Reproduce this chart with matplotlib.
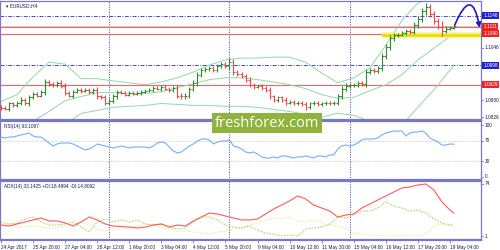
import matplotlib
matplotlib.use("Agg")
import matplotlib.pyplot as plt
import numpy as np
from matplotlib.patches import Rectangle

# H4 bars, 24 Apr 2017 .. 19 May 2017
closes = [
    1.0856, 1.0853, 1.0870, 1.0864, 1.0873, 1.0882, 1.0870, 1.0889, 1.0901, 1.0895,
    1.0907, 1.0938, 1.0932, 1.0929, 1.0935, 1.0926, 1.0904, 1.0895, 1.0907, 1.0913,
    1.0910, 1.0913, 1.0907, 1.0913, 1.0892, 1.0889, 1.0873, 1.0879, 1.0892, 1.0907,
    1.0904, 1.0898, 1.0904, 1.0901, 1.0904, 1.0907, 1.0910, 1.0913, 1.0919, 1.0916,
    1.0922, 1.0916, 1.0913, 1.0919, 1.0895, 1.0892, 1.0895, 1.0916, 1.0935, 1.0960,
    1.0975, 1.0978, 1.0981, 1.0975, 1.0988, 1.0994, 1.0988, 1.1000, 1.0969, 1.0963,
    1.0957, 1.0944, 1.0929, 1.0923, 1.0926, 1.0919, 1.0913, 1.0892, 1.0882, 1.0889,
    1.0882, 1.0873, 1.0876, 1.0870, 1.0873, 1.0867, 1.0858, 1.0870, 1.0873, 1.0867,
    1.0870, 1.0873, 1.0870, 1.0873, 1.0892, 1.0916, 1.0926, 1.0929, 1.0929, 1.0935,
    1.0932, 1.0969, 1.0975, 1.0972, 1.0981, 1.1019, 1.1047, 1.1075, 1.1084, 1.1087,
    1.1093, 1.1099, 1.1096, 1.1118, 1.1137, 1.1162, 1.1174, 1.1152, 1.1130, 1.1112,
    1.1099, 1.1106, 1.1109, 1.1115,
]
first_open = 1.0860
wick_pips = [
    6, 5, 6, 5, 6, 7, 5, 8, 6, 5,
    6, 10, 7, 6, 6, 8, 8, 6, 7, 5,
    6, 5, 6, 6, 9, 6, 8, 7, 8, 7,
    5, 6, 5, 5, 5, 6, 5, 5, 6, 5,
    6, 5, 6, 6, 9, 7, 8, 7, 8, 9,
    7, 6, 6, 6, 7, 6, 6, 12, 9, 6,
    6, 7, 8, 6, 5, 6, 7, 9, 6, 6,
    6, 7, 5, 6, 5, 6, 8, 6, 5, 6,
    5, 5, 5, 6, 8, 9, 7, 6, 6, 7,
    6, 10, 7, 6, 7, 10, 9, 10, 8, 6,
    6, 7, 6, 8, 9, 10, 12, 10, 9, 8,
    18, 7, 6, 5,
]

# Bollinger bands, sampled every 4 bars
bb_k = [0, 4, 8, 12, 16, 20, 24, 28, 32, 36, 40, 44, 48, 52, 56,
        60, 64, 68, 72, 76, 80, 84, 88, 92, 96, 100, 104, 108, 112, 113]
bb_upper = [1.0876, 1.0898, 1.0954, 1.1000, 1.0994, 1.0948, 1.0948, 1.0941, 1.0935, 1.0929,
            1.0938, 1.0951, 1.0969, 1.0991, 1.1007, 1.1013, 1.1013, 1.1016, 1.1016, 1.1000,
            1.0966, 1.0935, 1.0951, 1.0982, 1.1053, 1.1131, 1.1186, 1.1208, 1.1202, 1.1196]
bb_mid = [1.0790, 1.0796, 1.0814, 1.0845, 1.0879, 1.0892, 1.0904, 1.0904, 1.0901, 1.0901,
          1.0907, 1.0920, 1.0932, 1.0945, 1.0951, 1.0951, 1.0945, 1.0938, 1.0929, 1.0917,
          1.0898, 1.0886, 1.0889, 1.0910, 1.0929, 1.0960, 1.1007, 1.1044, 1.1081, 1.1090]
bb_lower = [1.0728, 1.0728, 1.0743, 1.0765, 1.0805, 1.0839, 1.0848, 1.0858, 1.0861, 1.0864,
            1.0870, 1.0867, 1.0864, 1.0864, 1.0861, 1.0861, 1.0858, 1.0851, 1.0845, 1.0836,
            1.0827, 1.0839, 1.0833, 1.0814, 1.0790, 1.0802, 1.0858, 1.0913, 1.0975, 1.0991]

# RSI(14), one value per bar
rsi = [
    76.9, 75.0, 76.9, 76.9, 78.8, 80.8, 82.7, 84.6, 78.8, 76.9,
    76.9, 71.2, 65.4, 59.6, 63.5, 65.4, 65.4, 65.4, 63.5, 59.6,
    55.8, 51.9, 53.8, 57.7, 63.5, 61.5, 59.6, 57.7, 55.8, 57.7,
    59.6, 57.7, 55.8, 57.7, 57.7, 57.7, 57.7, 55.8, 59.6, 65.4,
    67.3, 65.4, 57.7, 50.0, 46.2, 48.1, 53.8, 59.6, 63.5, 69.2,
    73.1, 73.1, 71.2, 63.5, 67.3, 69.2, 69.2, 71.2, 59.6, 57.7,
    53.8, 48.1, 46.2, 48.1, 44.2, 38.5, 36.5, 36.5, 38.5, 36.5,
    40.4, 40.4, 38.5, 36.5, 38.5, 38.5, 40.4, 38.5, 36.5, 40.4,
    40.4, 38.5, 42.3, 42.3, 53.8, 59.6, 61.5, 59.6, 61.5, 65.4,
    71.2, 73.1, 73.1, 73.1, 75.0, 80.8, 84.6, 86.5, 88.5, 88.5,
    88.5, 78.8, 84.6, 86.5, 86.5, 88.5, 84.6, 75.0, 71.2, 67.3,
    61.5, 61.5, 63.5, 63.1,
]

# ADX(14), sampled every 2 bars
adx_k = list(range(0, 113, 2)) + [113]
adx = [16.4, 15.0, 17.9, 20.7, 23.5, 26.3, 22.1, 22.1, 19.3, 15.0,
       20.7, 27.7, 23.5, 17.9, 15.0, 14.3, 13.6, 12.2, 13.6, 16.4,
       17.9, 13.6, 16.4, 15.0, 22.1, 27.7, 33.3, 31.9, 29.1, 26.3,
       23.5, 23.5, 24.9, 31.9, 38.9, 44.5, 50.2, 57.2, 53.0, 44.5,
       40.3, 36.1, 27.7, 30.5, 31.9, 40.3, 45.9, 51.6, 57.2, 62.8,
       68.4, 69.8, 72.6, 74.0, 65.6, 48.8, 37.5, 33.1]
plus_di = [20.7, 17.9, 19.3, 24.9, 27.7, 20.7, 16.4, 16.4, 17.9, 20.7,
           13.6, 6.6, 20.7, 24.9, 20.7, 23.5, 20.7, 23.5, 17.9, 16.4,
           17.9, 13.6, 10.8, 12.2, 20.7, 27.7, 27.7, 23.5, 16.4, 13.6,
           12.2, 15.0, 9.4, 5.2, 3.8, 1.0, 2.4, 1.2, 10.8, 12.2,
           13.6, 17.9, 27.7, 26.3, 30.5, 36.1, 36.1, 40.3, 48.8, 43.1,
           40.3, 36.1, 37.5, 33.3, 24.9, 19.3, 16.4, 18.5]
minus_di = [17.9, 16.4, 13.6, 13.6, 15.7, 13.6, 12.2, 12.2, 15.0, 17.9,
            20.7, 16.4, 10.8, 8.0, 9.4, 10.8, 12.2, 15.0, 17.9, 16.4,
            13.6, 10.8, 8.0, 8.0, 6.6, 5.2, 3.8, 6.6, 8.0, 10.8,
            12.2, 16.4, 19.3, 23.5, 26.3, 24.9, 27.7, 22.1, 20.7, 23.5,
            19.3, 16.4, 15.0, 12.2, 5.2, 3.8, 2.4, 1.7, 1.0, 1.0,
            1.7, 2.4, 1.0, 3.8, 15.0, 17.9, 15.0, 14.8]

x_labels = ["24 Apr 2017", "25 Apr 20:00", "27 Apr 04:00", "28 Apr 12:00",
            "1 May 20:00", "3 May 04:00", "4 May 12:00", "5 May 20:00",
            "9 May 04:00", "10 May 12:00", "11 May 20:00", "15 May 04:00",
            "16 May 12:00", "17 May 20:00", "19 May 04:00"]
separators = [27, 57, 87]

# horizontal levels
blue_levels = [1.1146, 1.0990]
blue_texts = ["1.1146", "1.0998"]
red_levels = [1.1111, 1.1090, 1.0929]
red_texts = ["1.1111", "1.1090", "1.0929"]
bid = 1.1115
plain_ticks = [1.1046, 1.0880, 1.0826]
support = 1.1087

FRAME = "#7878c8"
TXT = "#1a1a50"
FS = 3.4
SMALL = "Liberation Sans"

fig = plt.figure(figsize=(5, 2.5), dpi=100)
ax_p = fig.add_axes([0.0, 0.52, 0.962, 0.476])
ax_r = fig.add_axes([0.0, 0.28, 0.962, 0.236])
ax_a = fig.add_axes([0.0, 0.04, 0.962, 0.236])

for ax in (ax_p, ax_r, ax_a):
    ax.set_xlim(-0.25, 119.75)
    ax.set_yticks([])
    ax.set_xticks([])
    for s in ("top", "bottom"):
        ax.spines[s].set_color(FRAME)
        ax.spines[s].set_linewidth(1.6)
    for s in ("left", "right"):
        ax.spines[s].set_color(FRAME)
        ax.spines[s].set_linewidth(0.9)
    for k in separators:
        ax.axvline(k, color="#4a4ac0", lw=0.6, ls=(0, (1.5, 1.5)), zorder=1)


def right_label(ax, lv, text, face=None):
    tr = ax.get_yaxis_transform()
    if face is None:
        ax.text(1.008, lv, text, transform=tr, fontsize=FS, color=TXT, family=SMALL,
                va="center", ha="left", clip_on=False)
        ax.plot([1.0, 1.005], [lv, lv], transform=tr, color=FRAME, lw=0.6, clip_on=False)
    else:
        ax.text(1.005, lv, text, transform=tr, fontsize=FS, color="white", family=SMALL,
                va="center", ha="left", clip_on=False,
                bbox=dict(boxstyle="square,pad=0.2", fc=face, ec="none"))


# ---- price panel
ax_p.set_ylim(1.0818, 1.11926)
ax_p.spines["top"].set_linewidth(0.9)

for lv in blue_levels:
    ax_p.axhline(lv, color="#4646e0", lw=0.7, ls=(0, (4, 1.5, 1, 1.5)), zorder=1)
for lv in red_levels:
    ax_p.axhline(lv, color="#f06464", lw=0.8, zorder=1)
ax_p.axhline(bid, color="#c8c8c8", lw=0.6, zorder=1)

ax_p.plot(bb_k, bb_upper, color="#90d8a8", lw=0.7, zorder=2)
ax_p.plot(bb_k, bb_mid, color="#90d8a8", lw=0.7, zorder=2)
ax_p.plot(bb_k, bb_lower, color="#90d8a8", lw=0.7, zorder=2)

k = np.arange(len(closes))
c = np.array(closes)
o = np.r_[first_open, c[:-1]]
w = np.array(wick_pips) * 0.0001
hi = np.maximum(o, c) + w
lo = np.minimum(o, c) - w
cols = np.where(c >= o, "#2e8e2e", "#f04848")
ax_p.vlines(k, lo, hi, colors=cols, lw=0.8, zorder=3)
ax_p.hlines(o, k - 0.45, k, colors=cols, lw=0.8, zorder=3)
ax_p.hlines(c, k, k + 0.45, colors=cols, lw=0.8, zorder=3)

# yellow support zone
ax_p.plot([95, 119.75], [support, support], color="#f8f080", lw=4.5, alpha=0.7, zorder=2,
          solid_capstyle="butt")
ax_p.plot([95, 119.75], [support, support], color="#e8e000", lw=2.0, zorder=2,
          solid_capstyle="butt")

# blue forecast arrow
ax_p.annotate("", xy=(119.4, 1.1108), xytext=(113.2, 1.1117),
              arrowprops=dict(arrowstyle="-|>", color="#1c1cc8", lw=1.2,
                              mutation_scale=7, shrinkA=0, shrinkB=0,
                              connectionstyle="arc3,rad=-1.7"),
              zorder=5)

for lv, t in zip(blue_levels, blue_texts):
    right_label(ax_p, lv, t, "#2020d0")
for lv, t in zip(red_levels, red_texts):
    right_label(ax_p, lv, t, "#f02020")
for lv in plain_ticks:
    right_label(ax_p, lv, f"{lv:.4f}")

ax_p.text(0.012, 0.955, "\u25be EURUSD,H4", transform=ax_p.transAxes, fontsize=FS,
          color=TXT, va="center", ha="left")

# ---- RSI panel
ax_r.set_ylim(-5.8, 107.7)
for lv in (70, 30):
    ax_r.axhline(lv, color="#c8c8c8", lw=0.6, ls=(0, (1.5, 1.5)), zorder=1)
ax_r.plot(k, rsi, color="#70b0ff", lw=0.8, zorder=3)
ax_r.text(0.008, 0.9, "RSI(14) 63.1097", transform=ax_r.transAxes, fontsize=FS,
          family=SMALL, color=TXT, va="center", ha="left")
for lv in (100, 70, 30, 0):
    right_label(ax_r, lv, str(lv))

# ---- ADX panel
ax_a.set_ylim(-4.6, 78.2)
ax_a.plot(adx_k, minus_di, color="#f4e6a8", lw=0.8, ls=(0, (1.5, 1.2)), zorder=2)
ax_a.plot(adx_k, plus_di, color="#b4d468", lw=0.8, ls=(0, (1.5, 1.2)), zorder=2)
ax_a.plot(adx_k, adx, color="#ff5a5a", lw=0.8, zorder=3)
ax_a.text(0.008, 0.9, "ADX(14) 33.1425 +DI:18.4994 -DI:14.8092", transform=ax_a.transAxes,
          fontsize=FS, family=SMALL, color=TXT, va="center", ha="left")
for lv in (74, 1):
    right_label(ax_a, lv, str(lv))

ax_a.set_xticks(range(0, 8 * len(x_labels), 8))
ax_a.set_xticklabels(x_labels, fontsize=FS, family=SMALL, color=TXT, ha="left")
ax_a.tick_params(axis="x", length=2, width=0.6, color=FRAME, pad=1.5)

# watermark
fig.patches.append(Rectangle((0.424, 0.468), 0.22, 0.08, transform=fig.transFigure,
                             fc="#8fb43c", ec="none", zorder=10))
fig.text(0.534, 0.506, "freshforex.com", fontsize=10.5, color="white", ha="center",
         va="center", family="Open Sans", zorder=11)

fig.savefig("out.png", dpi=100, facecolor="white")
